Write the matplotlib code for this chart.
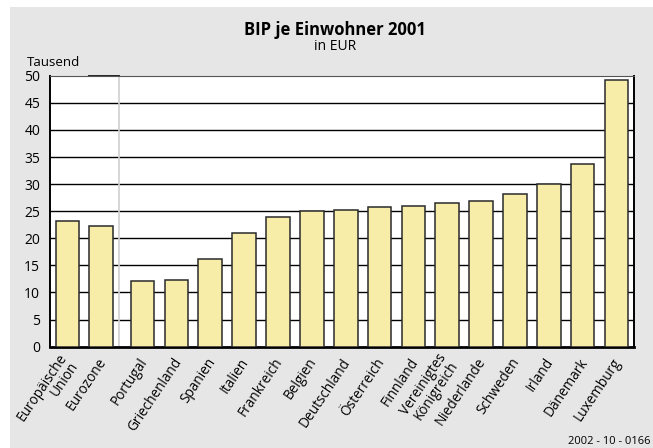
import matplotlib
matplotlib.use("Agg")
import matplotlib.pyplot as plt
import matplotlib.transforms as mtransforms
from matplotlib.patches import Rectangle

categories = ["Europäische\nUnion", "Eurozone", "Portugal", "Griechenland", "Spanien",
              "Italien", "Frankreich", "Belgien", "Deutschland", "Österreich", "Finnland",
              "Vereinigtes\nKönigreich", "Niederlande", "Schweden", "Irland", "Dänemark",
              "Luxemburg"]
values = [23.1, 22.2, 12.1, 12.3, 16.1, 21.0, 23.9, 25.0, 25.2, 25.8, 26.0,
          26.5, 26.8, 28.1, 30.1, 33.8, 49.2]
yticks = [0, 5, 10, 15, 20, 25, 30, 35, 40, 45, 50]

plt.rcParams['font.family'] = ['Open Sans', 'DejaVu Sans']

W, H = 653, 448
fig = plt.figure(figsize=(W / 100, H / 100), dpi=100)
fig.patch.set_facecolor('white')
fig.patches.append(Rectangle((10 / W, 0), 1 - 10 / W, 1 - 7 / H, transform=fig.transFigure,
                             facecolor='#e6e6e6', edgecolor='none', zorder=-10))

ax = fig.add_axes([50 / W, 1 - 346.7 / H, (634 - 50) / W, (346.7 - 75.7) / H])
ax.set_zorder(5)
ax.set_facecolor('white')

gap = 0.22
xs = [i if i < 2 else i + gap for i in range(len(values))]
ax.bar(xs, values, width=0.70, color='#f7eda8', edgecolor='#2a2a2a', linewidth=1.1, zorder=3)

ax.set_ylim(0, 50)
ax.set_xlim(-0.517, 16.74)
ax.set_yticks(yticks)
ax.set_yticklabels([str(v) for v in yticks], fontsize=10)
ax.tick_params(axis='y', length=0, pad=7)
for v in yticks[1:-1]:
    ax.axhline(v, color='black', linewidth=1.0, zorder=1)
ax.plot([0.63, 1.52], [50, 50], color='#222222', linewidth=1.4, zorder=2, clip_on=False)
ax.axvline(1.52, color='#d0d0d0', linewidth=1.2, zorder=1)

ax.set_xticks(xs)
ax.set_xticklabels(categories, rotation=56, ha='right', rotation_mode='anchor',
                   fontsize=9.8, multialignment='right', linespacing=0.85)
ax.tick_params(axis='x', length=0, pad=4)
offset = mtransforms.ScaledTranslation(2 / 100, -7 / 100, fig.dpi_scale_trans)
for lab in ax.get_xticklabels():
    lab.set_va('center')
    lab.set_transform(lab.get_transform() + offset)

for s in ['left', 'right']:
    ax.spines[s].set_color('black')
    ax.spines[s].set_linewidth(1.4)
ax.spines['bottom'].set_color('black')
ax.spines['bottom'].set_linewidth(2.0)
ax.spines['top'].set_color('#555555')
ax.spines['top'].set_linewidth(0.8)

fig.text(335 / W, 1 - 30 / H, "BIP je Einwohner 2001", ha='center', va='center',
         fontsize=12, fontweight='bold')
fig.text(335 / W, 1 - 46 / H, "in EUR", ha='center', va='center', fontsize=10)
fig.text(27 / W, 1 - 63 / H, "Tausend", ha='left', va='center', fontsize=9.5)
fig.text(650 / W, 1 - 441 / H, "2002 - 10 - 0166", ha='right', va='center', fontsize=8)

fig.savefig('out.png', dpi=100)
